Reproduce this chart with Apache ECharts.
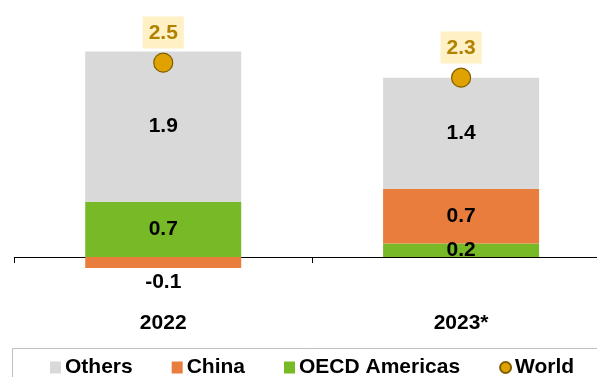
<!DOCTYPE html>
<html>
<head>
<meta charset="utf-8">
<style>
html,body{margin:0;padding:0;background:#fff;}
#chart{width:597px;height:377px;}
</style>
<script src="https://cdn.jsdelivr.net/npm/echarts@6/dist/echarts.min.js"></script>
</head>
<body>
<div id="chart"></div>
<script>
const categories = ['2022', '2023*'];
const others = [1.9, 1.41];
const china = [-0.14, 0.69];
const oecdAmericas = [0.7, 0.17];
const world = [2.46, 2.27];

const FONT = 'Arial, "Liberation Sans", sans-serif';
const chart = echarts.init(document.getElementById('chart'), null, {renderer: 'canvas'});

const inLabel = {
  show: true, position: 'inside', color: '#000', fontWeight: 'bold',
  fontSize: 21, fontFamily: FONT,
  formatter: p => p.value.toFixed(1)
};

chart.setOption({
  animation: false,
  textStyle: {fontFamily: FONT},
  grid: {left: 14.3, right: -13, top: 0.25, bottom: 76.55, containLabel: false, outerBoundsMode: 'none'},
  xAxis: {
    type: 'category', data: categories,
    axisLine: {show: true, onZero: true, lineStyle: {color: '#000', width: 1}},
    axisTick: {show: true, length: 6, inside: false, alignWithLabel: false, lineStyle: {color: '#000'}},
    axisLabel: {margin: 12, color: '#000', fontWeight: 'bold', fontSize: 21, fontFamily: FONT}
  },
  yAxis: {type: 'value', min: -0.55, max: 3.25, show: false, splitLine: {show: false}},
  legend: {
    left: 45, top: 352, itemGap: 39, itemWidth: 11, itemHeight: 12,
    textStyle: {color: '#000', fontWeight: 'bold', fontSize: 21, fontFamily: FONT, padding: [0, 0, 0, -1]},
    data: [
      {name: 'Others', icon: 'rect'},
      {name: 'China', icon: 'rect'},
      {name: 'OECD Americas', icon: 'rect'},
      {name: 'World', icon: 'circle'}
    ]
  },
  graphic: [{
    type: 'rect', silent: true,
    shape: {x: 12.5, y: 348.5, width: 620, height: 60},
    style: {fill: 'none', stroke: '#BFBFBF', lineWidth: 1}
  }],
  series: [
    {
      name: 'OECD Americas', type: 'bar', stack: 'pos', data: oecdAmericas,
      barWidth: 156, itemStyle: {color: '#77B926'}, label: inLabel
    },
    {
      name: 'China', type: 'bar', stack: 'pos', barWidth: 156,
      data: china.map(v => v < 0
        ? {value: v, label: {position: 'bottom', distance: 4}}
        : {value: v}),
      itemStyle: {color: '#E97D3E'}, label: inLabel
    },
    {
      name: 'Others', type: 'bar', stack: 'pos', data: others,
      barWidth: 156, itemStyle: {color: '#D9D9D9'}, label: inLabel
    },
    {
      name: 'World', type: 'scatter', data: world, symbol: 'circle', symbolSize: 19,
      z: 5,
      itemStyle: {color: '#E0A200', borderColor: '#7F6000', borderWidth: 1.2, opacity: 1},
      label: {
        show: true, position: 'top', distance: 4,
        formatter: p => p.value.toFixed(1),
        color: '#B08200', fontWeight: 'bold', fontSize: 21, fontFamily: FONT,
        backgroundColor: '#FFF0C6', padding: [4, 6, 3, 6], lineHeight: 25
      }
    }
  ]
});
</script>
</body>
</html>
